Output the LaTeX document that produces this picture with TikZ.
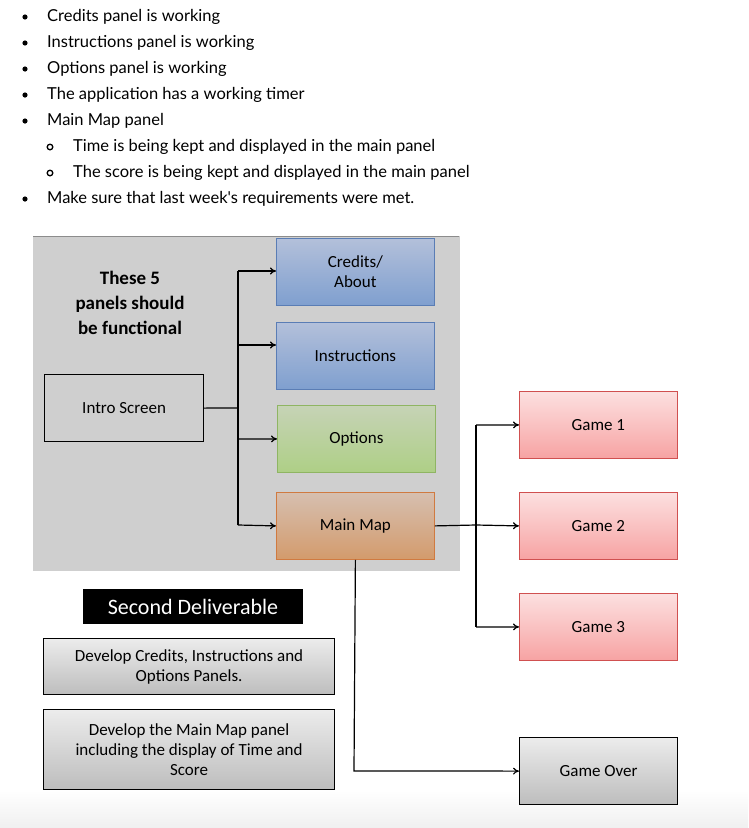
\documentclass[tikz,border=0pt]{standalone}
\usepackage{fontspec}
\setmainfont{Carlito}
\newfontfamily\lato{Lato}
\usetikzlibrary{arrows.meta}
\definecolor{bluetop}{HTML}{B3C0DA}\definecolor{bluebot}{HTML}{7F9FCF}\definecolor{blueline}{HTML}{5A7DB5}
\definecolor{greentop}{HTML}{C6D3B6}\definecolor{greenbot}{HTML}{AECF86}\definecolor{greenline}{HTML}{8FB563}
\definecolor{ortop}{HTML}{D6BFB0}\definecolor{orbot}{HTML}{D39B6C}\definecolor{orline}{HTML}{D07A40}
\definecolor{redtop}{HTML}{FCE0E0}\definecolor{redbot}{HTML}{F7A3A3}\definecolor{redline}{HTML}{D05050}
\definecolor{graytop}{HTML}{ECECEC}\definecolor{graybot}{HTML}{BDBDBD}\definecolor{grayline}{HTML}{000000}
\begin{document}
\begin{tikzpicture}[x=1pt,y=-1pt,
  box/.style={draw=#1line,line width=0.8pt,top color=#1top,bottom color=#1bot,minimum width=158pt,minimum height=67pt,font=\fontsize{17}{20}\selectfont,align=center,anchor=north west},
  arr/.style={-{To[length=6pt,width=7pt]},line width=1.2pt},
  ln/.style={line width=1.2pt},
  bul/.style={anchor=west,font=\lato\fontsize{16.5}{20}\selectfont,inner sep=0pt}]
\useasboundingbox (0,0) rectangle (748,828);
\shade[top color=white,bottom color=black!6] (0,790) rectangle (748,828);
% bullets
\foreach \y/\t in {17/Credits panel is working,43/Instructions panel is working,69/Options panel is working,95/The application has a working timer,121/Main Map panel,199/Make sure that last week's requirements were met.}{
  \fill (25,\y) circle (2.6pt);
  \node[bul] at (47,\y) {\t};}
\foreach \y/\t in {147/Time is being kept and displayed in the main panel,173/The score is being kept and displayed in the main panel}{
  \draw[line width=1.3pt] (50,\y) circle (2.8pt);
  \node[bul] at (73,\y) {\t};}
% panel
\draw[white,line width=3pt,fill=black!19] (31,234) rectangle (461,572);
\draw[black!45,line width=0.4pt] (33,236) -- (459,236);
\node[font=\bfseries\fontsize{19}{25}\selectfont,align=center] (t5) at (130,303) {These 5\\panels should\\be functional};
\node[draw,line width=1.2pt,minimum width=159pt,minimum height=67pt,anchor=north west,font=\fontsize{17}{20}\selectfont] (intro) at (44,374) {Intro Screen};
\node[box=blue] (cred) at (276,238) {Credits/\\About};
\node[box=blue] (instr) at (276,322) {Instructions};
\node[box=green] (opt) at (277,405) {Options};
\node[box=or] (map) at (276,492) {Main Map};
\node[box=red] (g1) at (519,391) {Game 1};
\node[box=red] (g2) at (519,492) {Game 2};
\node[box=red] (g3) at (519,593) {Game 3};
\node[box=gray,line width=1.2pt] (go) at (519,737) {Game Over};
\coordinate (tr) at (238,408);
\draw[ln] (intro.east) -- (tr);
\draw[ln] (238,271) -- (238,525);
\draw[arr] (238,271) -- (cred.west|-238,271);
\draw[arr] (238,345) -- (instr.west|-238,345);
\draw[arr] (238,439) -- (opt.west);
\draw[arr] (238,525) -- (map.west);
\draw[ln] (map.east) -- (476,525);
\draw[ln] (476,425) -- (476,627);
\draw[arr] (476,425) -- (g1.west);
\draw[arr] (476,525) -- (g2.west);
\draw[arr] (476,627) -- (g3.west);
\draw[arr] (map.south) -- (354,771) -- (go.west);
% deliverable
\node[fill=black,draw=white,line width=2pt,text=white,font=\fontsize{22}{26}\selectfont,minimum width=222pt,minimum height=37pt,anchor=north west,inner sep=2pt] (sd) at (81,587) {Second Deliverable};
\node[box=gray,line width=1.2pt,minimum width=291pt,minimum height=56pt] (d1) at (43,638) {Develop Credits, Instructions and\\Options Panels.};
\node[box=gray,line width=1.2pt,minimum width=291pt,minimum height=80pt] (d2) at (43,709) {Develop the Main Map panel\\including the display of Time and\\Score};
\end{tikzpicture}
\end{document}
